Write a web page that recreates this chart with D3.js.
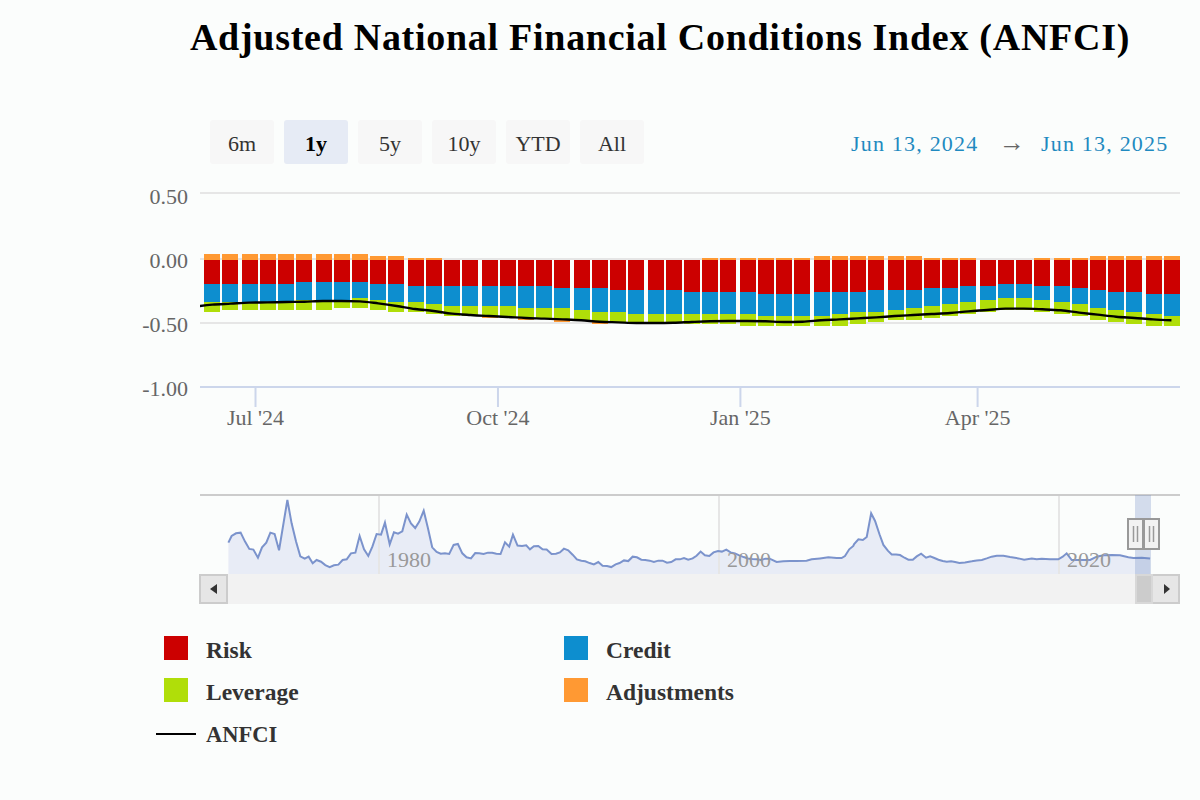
<!DOCTYPE html>
<html>
<head>
<meta charset="utf-8">
<script src="https://cdn.jsdelivr.net/npm/d3@7"></script>
<style>
  html, body { margin: 0; padding: 0; background: #fbfdfc; }
  svg { display: block; font-family: "Liberation Serif", serif; }
  .y-axis path, .x-axis path { display: none; }
  .y-axis line { display: none; }
  .y-axis text, .x-axis text { font-family: "Liberation Serif", serif; font-size: 22px; fill: #666; }
  .x-axis line { stroke: #ccd6eb; stroke-width: 2; }
</style>
</head>
<body>
<svg id="chart" width="1200" height="800"></svg>
<script>
const seriesNames = ["Risk", "Credit", "Leverage", "Adjustments"];
const seriesColors = ["#cc0000", "#0d8ecf", "#b0de09", "#ff9933"];

const risk = [-.188,-.188,-.188,-.188,-.188,-.172,-.172,-.172,-.172,-.188,-.188,-.203,-.203,-.203,-.203,-.203,-.203,-.203,-.203,-.219,-.219,-.219,-.234,-.234,-.234,-.234,-.25,-.25,-.25,-.25,-.266,-.266,-.266,-.25,-.25,-.25,-.234,-.234,-.234,-.219,-.219,-.203,-.203,-.188,-.188,-.203,-.203,-.219,-.234,-.25,-.25,-.266,-.266];
const credit = [-.141,-.141,-.141,-.141,-.141,-.141,-.141,-.141,-.125,-.125,-.141,-.125,-.141,-.156,-.156,-.156,-.156,-.172,-.172,-.156,-.172,-.188,-.172,-.188,-.188,-.188,-.172,-.172,-.172,-.172,-.172,-.172,-.172,-.188,-.172,-.156,-.172,-.156,-.141,-.141,-.125,-.125,-.109,-.109,-.109,-.109,-.125,-.125,-.141,-.141,-.156,-.156,-.172];
const leverage = [-.078,-.063,-.063,-.063,-.063,-.078,-.078,-.063,-.078,-.078,-.078,-.078,-.078,-.078,-.078,-.078,-.094,-.078,-.078,-.094,-.078,-.078,-.078,-.063,-.063,-.063,-.078,-.078,-.078,-.094,-.078,-.078,-.078,-.078,-.094,-.094,-.078,-.078,-.094,-.094,-.094,-.094,-.094,-.094,-.094,-.094,-.094,-.094,-.094,-.094,-.094,-.094,-.078];
const adjustments = [.047,.047,.047,.047,.047,.047,.047,.047,.047,.031,.031,.016,.016,0,0,-.016,0,-.016,0,-.016,0,-.016,0,0,0,0,0,.016,.016,.016,.016,.016,.016,.031,.031,.031,.031,.031,.031,.016,.016,.016,0,0,0,.016,.016,.016,.031,.031,.031,.031,.031];
// first value is the week before the window, the line runs in from the left edge
const anfci = [-.365,-.349,-.341,-.333,-.331,-.328,-.326,-.320,-.320,-.323,-.339,-.359,-.383,-.398,-.419,-.430,-.438,-.445,-.453,-.458,-.464,-.471,-.482,-.487,-.492,-.492,-.490,-.484,-.479,-.477,-.477,-.479,-.484,-.482,-.471,-.464,-.456,-.448,-.438,-.430,-.422,-.414,-.401,-.391,-.380,-.380,-.385,-.393,-.411,-.427,-.443,-.453,-.464,-.471];

const yTicks = [0.5, 0, -0.5, -1];
const xTickDates = [new Date(Date.UTC(2024, 6, 1)), new Date(Date.UTC(2024, 9, 1)), new Date(Date.UTC(2025, 0, 1)), new Date(Date.UTC(2025, 3, 1))];
const xTickLabels = ["Jul '24", "Oct '24", "Jan '25", "Apr '25"];
const rangeButtons = ["6m", "1y", "5y", "10y", "YTD", "All"];

const navYears = [1971.14,1971.33,1971.59,1971.86,1972.12,1972.37,1972.61,1972.88,1973.12,1973.37,1973.61,1973.86,1974.12,1974.61,1974.86,1975.12,1975.37,1975.63,1975.86,1976.10,
  1976.33,1976.59,1976.84,1977.10,1977.35,1977.61,1977.86,1978.10,1978.35,1978.61,1978.86,1979.12,1979.37,1979.61,1979.86,1980.12,1980.35,1980.63,1980.88,1981.12,
  1981.37,1981.63,1981.88,1982.13,1982.37,1982.63,1982.88,1983.13,1983.39,1983.63,1983.88,1984.13,1984.39,1984.64,1984.90,1985.15,1985.41,1985.66,1985.90,1986.15,
  1986.41,1986.66,1986.90,1987.15,1987.41,1987.66,1987.88,1988.15,1988.41,1988.66,
  1988.88,1989.11,1989.37,1989.62,1989.86,1990.15,1990.41,1990.64,1990.88,1991.13,1991.39,1991.64,1991.90,1992.13,1992.39,1992.64,1992.90,1993.15,1993.41,1993.66,
  1993.92,1994.15,1994.41,1994.66,1994.92,1995.17,1995.43,1995.66,1995.92,1996.17,1996.43,1996.68,1996.94,1997.19,1997.45,1997.70,1997.94,1998.19,1998.45,1998.68,
  1998.92,1999.17,1999.43,1999.68,1999.94,2000.17,2000.43,2000.68,2000.94,2001.19,2001.45,2001.70,2001.96,2002.21,2002.47,2002.72,2002.98,2003.39,2003.78,2004.17,
  2004.56,2005.15,2005.45,2005.94,2006.43,2006.92,2007.21,2007.41,2007.66,2007.90,
  2007.95,2008.20,2008.46,2008.69,2008.95,2009.18,2009.44,2009.67,2009.93,2010.16,2010.42,2010.65,2010.91,2011.14,2011.40,2011.63,2011.89,2012.18,2012.42,2012.67,
  2012.91,2013.16,2013.40,2013.65,2013.89,2014.14,2014.47,2014.87,2015.16,2015.46,2015.75,2016.04,2016.34,2016.73,2017.12,2017.61,2017.95,2018.40,2018.69,2018.98,
  2019.47,2019.96,2020.22,2020.45,2020.75,2021.24,2021.83,2022.22,2022.61,2023.10,2023.59,2024.08,2024.38,2024.87,2025.36];
const navValues = [.70,1.20,1.40,1.45,.78,.23,.18,-.43,.35,.70,1.45,1.35,.13,3.90,2.15,.78,-.33,-.50,-.35,-.85,
  -.60,-.73,-.98,-1.13,-1.00,-.95,-.60,-.55,-.10,-.05,1.20,.20,-.30,.40,1.35,1.30,2.20,.58,1.48,1.38,
  1.55,2.80,2.15,1.80,2.28,3.10,1.78,.35,0,-.13,-.10,-.15,.53,.60,-.10,-.40,-.48,-.08,-.10,-.15,
  -.05,-.05,-.13,-.15,.73,.40,1.30,.48,.45,.50,
  .20,.43,.45,.20,.18,-.15,-.13,-.03,.25,.13,-.20,-.55,-.65,-.70,-.83,-.93,-.75,-1.03,-1.05,-1.13,
  -.93,-.83,-.63,-.68,-.35,-.40,-.58,-.60,-.65,-.75,-.65,-.65,-.80,-.75,-.55,-.55,-.45,-.58,-.48,-.28,
  .03,-.25,-.30,-.03,.08,.03,.18,-.03,-.10,-.25,-.38,-.48,-.53,-.55,-.60,-.50,-.50,-.75,-.70,-.68,
  -.68,-.65,-.55,-.48,-.40,-.45,-.45,-.30,.20,.45,
  .60,.95,.90,1.13,2.90,2.33,1.33,.53,.10,-.18,-.18,-.23,-.43,-.58,-.58,-.33,-.13,-.43,-.33,-.45,
  -.58,-.68,-.73,-.70,-.75,-.83,-.78,-.70,-.63,-.60,-.48,-.35,-.28,-.28,-.38,-.48,-.58,-.48,-.55,-.50,
  -.55,-.55,-.35,-.10,-.60,-.60,-.60,-.35,-.25,-.23,-.25,-.40,-.45,-.43,-.48];
const navTicks = [1980, 2000, 2020];

const svg = d3.select("#chart");
const left = 200, right = 1180;

const weekDates = d3.utcDay.range(new Date(Date.UTC(2024, 5, 14)), new Date(Date.UTC(2025, 5, 14)), 7);
const lineDates = [new Date(Date.UTC(2024, 5, 7))].concat(weekDates);

const xScale = d3.scaleUtc()
    .domain([new Date(Date.UTC(2024, 5, 10, 3)), new Date(Date.UTC(2025, 5, 17))])
    .range([left, right]);
const yScale = d3.scaleLinear().domain([-1, 0.5]).range([388, 196]);
// gridlines sit a little off the label positions in the original
const gridY = d3.scaleLinear().domain([-1, -0.5, 0, 0.5]).range([387, 323, 259, 193]);

// title
svg.append("text")
    .attr("x", 660).attr("y", 50)
    .attr("text-anchor", "middle")
    .style("font-size", "38px").style("font-weight", "bold").style("letter-spacing", "0.72px")
    .style("fill", "#000")
    .text("Adjusted National Financial Conditions Index (ANFCI)");

// range buttons
const btn = svg.selectAll(".btn").data(rangeButtons).enter().append("g")
    .attr("class", "btn")
    .attr("transform", (d, i) => `translate(${210 + i * 74},120)`);
btn.append("rect")
    .attr("width", 64).attr("height", 44).attr("rx", 3)
    .attr("fill", d => d === "1y" ? "#e6ebf5" : "#f7f7f7");
btn.append("text")
    .attr("x", 32).attr("y", 31)
    .attr("text-anchor", "middle")
    .style("font-size", "22px")
    .style("font-weight", d => d === "1y" ? "bold" : "normal")
    .style("fill", d => d === "1y" ? "#000" : "#333")
    .text(d => d);

// date range readout
[["Jun 13, 2024", 851], ["Jun 13, 2025", 1041]].forEach(function(t) {
    svg.append("text").attr("x", t[1]).attr("y", 151)
        .style("font-size", "22px").style("letter-spacing", "1.2px").style("fill", "#1f8ac0")
        .text(t[0]);
});
svg.append("text").attr("x", 1012).attr("y", 151).attr("text-anchor", "middle")
    .style("font-size", "26px").style("fill", "#666").text("\u2192");

// gridlines
svg.append("g").selectAll("line").data(yTicks).enter().append("line")
    .attr("x1", left).attr("x2", right)
    .attr("y1", d => gridY(d)).attr("y2", d => gridY(d))
    .attr("stroke", d => d === -1 ? "#ccd6eb" : "#e6e6e6")
    .attr("stroke-width", 2);

// axes
svg.append("g")
    .attr("class", "y-axis")
    .attr("transform", "translate(188,0)")
    .call(d3.axisLeft(yScale).tickValues(yTicks).tickSize(0).tickPadding(0).tickFormat(d3.format(".2f")))
    .selectAll("text").text(d => d3.format(".2f")(d).replace("\u2212", "-"));

svg.append("g")
    .attr("class", "x-axis")
    .attr("transform", "translate(0,387)")
    .call(d3.axisBottom(xScale).tickValues(xTickDates).tickSize(20).tickPadding(2)
        .tickFormat((d, i) => xTickLabels[i]));

// stacked bars
const table = weekDates.map((d, i) => ({
    date: d, Risk: risk[i], Credit: credit[i], Leverage: leverage[i], Adjustments: adjustments[i]
}));
const stacked = d3.stack().keys(seriesNames).offset(d3.stackOffsetDiverging)(table);
const snap = v => Math.round(v / 2) * 2;

svg.append("g").selectAll("g").data(stacked).enter().append("g")
    .attr("fill", (d, i) => seriesColors[i])
    .selectAll("rect").data(d => d).enter().append("rect")
    .attr("x", d => 2 * Math.ceil((xScale(d.data.date) + 1.25 - 8) / 2))
    .attr("width", 16)
    .attr("y", d => snap(yScale(Math.max(d[0], d[1]))))
    .attr("height", d => snap(yScale(Math.min(d[0], d[1]))) - snap(yScale(Math.max(d[0], d[1]))));

// ANFCI line
svg.append("clipPath").attr("id", "plot-clip").append("rect")
    .attr("x", left).attr("y", 180).attr("width", right - left).attr("height", 220);
svg.append("path")
    .attr("clip-path", "url(#plot-clip)")
    .attr("fill", "none").attr("stroke", "#000").attr("stroke-width", 2.4)
    .attr("d", d3.line()
        .x((d, i) => xScale(lineDates[i]) + 2)
        .y(d => yScale(d))
        .curve(d3.curveMonotoneX)(anfci));

// navigator
const navX = d3.scaleLinear().domain([1980, 2020]).range([379, 1059]);
const navY = d3.scaleLinear().domain([-1.65, 3.9]).range([574, 500]);
const navTop = 495, navBottom = 574;

svg.append("path")
    .attr("fill", "#e8ecf6")
    .attr("d", d3.area()
        .x((d, i) => navX(navYears[i]))
        .y0(navBottom)
        .y1(d => navY(d))(navValues));

svg.append("g").selectAll("line").data(navTicks).enter().append("line")
    .attr("x1", d => navX(d)).attr("x2", d => navX(d))
    .attr("y1", navTop).attr("y2", navBottom)
    .attr("stroke", "#e6e6e6").attr("stroke-width", 2);

svg.append("path")
    .attr("fill", "none").attr("stroke", "#7b93cc").attr("stroke-width", 2)
    .attr("d", d3.line()
        .x((d, i) => navX(navYears[i]))
        .y(d => navY(d))(navValues));

svg.append("g").selectAll("text").data(navTicks).enter().append("text")
    .attr("x", d => navX(d) + 30).attr("y", 567)
    .attr("text-anchor", "middle")
    .style("font-size", "22px").style("fill", "#999")
    .text(d => d);

svg.append("line").attr("x1", left).attr("x2", right).attr("y1", navTop).attr("y2", navTop)
    .attr("stroke", "#cccccc").attr("stroke-width", 2);

// selected window
svg.append("rect").attr("x", 1135).attr("y", navTop).attr("width", 16).attr("height", navBottom - navTop)
    .attr("fill", "#6685c2").attr("fill-opacity", 0.27);

// scrollbar
svg.append("rect").attr("x", 199).attr("y", 574).attr("width", 981).attr("height", 30).attr("fill", "#f2f2f2");
[[200, 27, "M210 589 l7 -5 v10 z"], [1152, 27, "M1170 589 l-6 -5 v10 z"]].forEach(function(b) {
    svg.append("rect").attr("x", b[0]).attr("y", 575).attr("width", b[1]).attr("height", 28)
        .attr("fill", "#e6e6e6").attr("stroke", "#cccccc").attr("stroke-width", 2);
    svg.append("path").attr("d", b[2]).attr("fill", "#333");
});
svg.append("rect").attr("x", 1136).attr("y", 575).attr("width", 16).attr("height", 28)
    .attr("fill", "#cccccc").attr("stroke", "#d8d8d8").attr("stroke-width", 2);

// window handles
[1128, 1144].forEach(function(hx) {
    svg.append("rect").attr("x", hx).attr("y", 519).attr("width", 15).attr("height", 30)
        .attr("fill", "#f2f2f2").attr("stroke", "#999").attr("stroke-width", 2);
    [5.5, 9.5].forEach(function(dx) {
        svg.append("line").attr("x1", hx + dx).attr("x2", hx + dx).attr("y1", 526).attr("y2", 542)
            .attr("stroke", "#999").attr("stroke-width", 1.5);
    });
});

// legend
const legendItems = [
    { name: "Risk", x: 164, y: 636, color: seriesColors[0] },
    { name: "Credit", x: 564, y: 636, color: seriesColors[1] },
    { name: "Leverage", x: 164, y: 678, color: seriesColors[2] },
    { name: "Adjustments", x: 564, y: 678, color: seriesColors[3] }
];
legendItems.forEach(function(d) {
    svg.append("rect").attr("x", d.x).attr("y", d.y).attr("width", 24).attr("height", 24).attr("fill", d.color);
    svg.append("text").attr("x", d.x + 42).attr("y", d.y + 22)
        .style("font-size", "23.5px").style("font-weight", "bold").style("fill", "#333")
        .text(d.name);
});
svg.append("line").attr("x1", 156).attr("x2", 196).attr("y1", 734).attr("y2", 734)
    .attr("stroke", "#000").attr("stroke-width", 2);
svg.append("text").attr("x", 206).attr("y", 742)
    .style("font-size", "22.5px").style("font-weight", "bold").style("fill", "#333")
    .text("ANFCI");
</script>
</body>
</html>
